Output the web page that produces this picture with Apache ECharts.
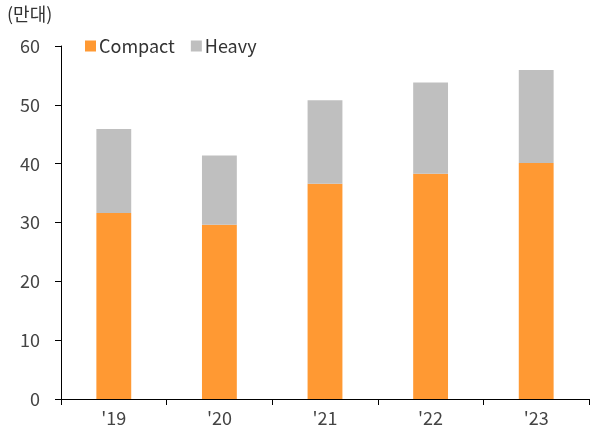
<!DOCTYPE html>
<html>
<head>
<meta charset="utf-8">
<script src="https://cdn.jsdelivr.net/npm/echarts@6/dist/echarts.min.js"></script>
<style>
html,body{margin:0;padding:0;background:#fff;}
#chart{width:590px;height:435px;}
</style>
</head>
<body>
<div id="chart"></div>
<script>
var categories = ["'19", "'20", "'21", "'22", "'23"];
var compact = [31.6, 29.6, 36.6, 38.3, 40.1];
var heavy = [14.3, 11.8, 14.2, 15.5, 15.8];
var yTicks = [0, 10, 20, 30, 40, 50, 60];
var unitLabel = "(만대)";

var FONT = "'Noto Sans CJK KR', 'Noto Sans', sans-serif";
var chart = echarts.init(document.getElementById('chart'), null, {renderer: 'canvas'});
chart.setOption({
  animation: false,
  textStyle: {fontFamily: FONT},
  graphic: [{
    type: 'text', left: 7, top: 5,
    style: {text: unitLabel, font: '18px ' + FONT, fill: '#333'}
  }],
  legend: {
    left: 80, top: 32,
    itemWidth: 11, itemHeight: 11, itemGap: 16,
    icon: 'rect',
    textStyle: {fontSize: 18, color: '#333', fontFamily: FONT, padding: [0, 0, 0, -2]},
    data: ['Compact', 'Heavy']
  },
  grid: {left: 61, right: 1, top: 46, bottom: 36, containLabel: false},
  xAxis: {
    type: 'category',
    data: categories,
    axisLine: {lineStyle: {color: '#000', width: 1}},
    axisTick: {show: true, length: 6, lineStyle: {color: '#000'}},
    axisLabel: {color: '#444', fontSize: 18, margin: 10, fontFamily: FONT}
  },
  yAxis: {
    type: 'value',
    min: yTicks[0], max: yTicks[yTicks.length - 1], interval: 10,
    axisLine: {show: true, lineStyle: {color: '#000', width: 1}},
    axisTick: {show: true, length: 6, lineStyle: {color: '#000'}},
    splitLine: {show: false},
    axisLabel: {color: '#444', fontSize: 18, margin: 21, fontFamily: FONT}
  },
  series: [
    {name: 'Compact', type: 'bar', stack: 'total', data: compact, barWidth: '33%',
     itemStyle: {color: '#FF9933'}},
    {name: 'Heavy', type: 'bar', stack: 'total', data: heavy, barWidth: '33%',
     itemStyle: {color: '#BFBFBF'}}
  ]
});
</script>
</body>
</html>
